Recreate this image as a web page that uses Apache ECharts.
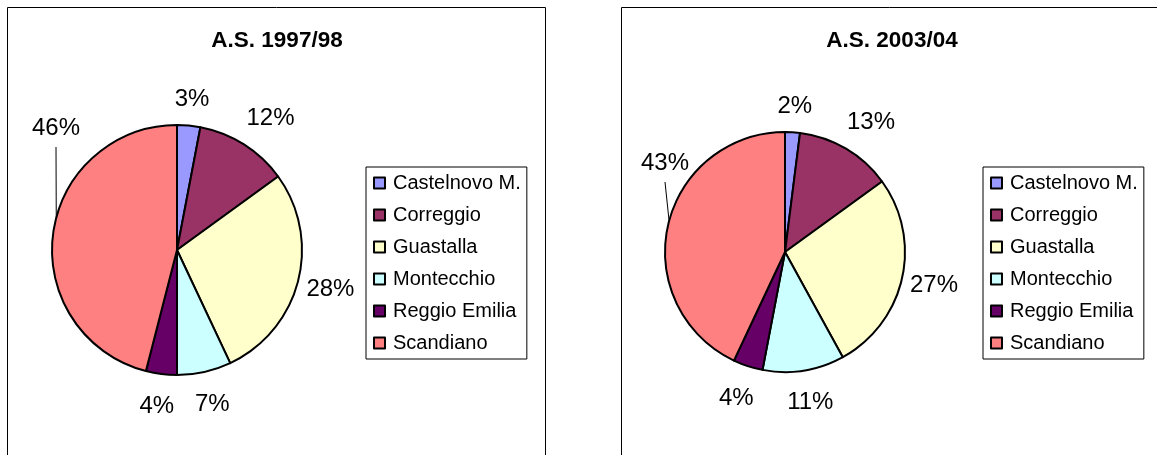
<!DOCTYPE html>
<html>
<head>
<meta charset="utf-8">
<script src="https://cdn.jsdelivr.net/npm/echarts@6/dist/echarts.min.js"></script>
<style>
  html, body { margin: 0; padding: 0; background: #fff; }
  #main { width: 1157px; height: 455px; }
</style>
</head>
<body>
<div id="main"></div>
<script>
// comuni (categorie) e percentuali
const comuni = ['Castelnovo M.', 'Correggio', 'Guastalla', 'Montecchio', 'Reggio Emilia', 'Scandiano'];
const valori9798 = [3, 12, 28, 7, 4, 46];
const valori0304 = [2, 13, 27, 11, 4, 43];
const colori = ['#9999FF', '#993366', '#FFFFCC', '#CCFFFF', '#660066', '#FF8080'];
const titoli = ['A.S. 1997/98', 'A.S. 2003/04'];

const font = 'Liberation Sans, Arial, sans-serif';

// geometria delle due torte; "spostata" = etichetta di Scandiano trascinata in alto
const pies = [
  { center: [177, 250], r: 125, spostata: [-121, -122] },
  { center: [785, 252], r: 120, spostata: [-120, -89] }
];

// angolo (radianti, orario dall'alto) a metà di ogni fetta
function midAngles(vals) {
  const tot = vals.reduce((a, b) => a + b, 0);
  let acc = 0;
  return vals.map(v => {
    const m = (acc + v / 2) / tot * Math.PI * 2;
    acc += v;
    return m;
  });
}

function buildData(vals) {
  return vals.map((v, i) => {
    const item = { name: comuni[i], value: v };
    if (i !== comuni.length - 1) item.labelLine = { show: false };
    return item;
  });
}

function makeSeries(vals, p) {
  const mids = midAngles(vals);
  return {
    type: 'pie',
    center: p.center,
    radius: p.r,
    startAngle: 90,
    clockwise: true,
    avoidLabelOverlap: false,
    animation: false,
    itemStyle: { borderColor: '#000', borderWidth: 2 },
    emphasis: { disabled: true },
    label: {
      show: true,
      position: 'outside',
      formatter: '{c}%',
      fontFamily: font,
      fontSize: 24,
      color: '#000'
    },
    labelLine: { show: true, length: 18, length2: 0, lineStyle: { color: '#000', width: 1 } },
    // etichette alla Excel: l'angolo del riquadro più vicino alla torta sta sul raggio medio
    labelLayout: function (params) {
      const i = params.dataIndex;
      const cx = p.center[0], cy = p.center[1];
      if (i === comuni.length - 1) {
        const lx = cx + p.spostata[0];
        const ly = cy + p.spostata[1];
        const a = 285 * Math.PI / 180;
        return {
          x: lx, y: ly, align: 'center', verticalAlign: 'middle',
          labelLinePoints: [[lx, ly + 19], [lx, ly + 19], [cx + p.r * Math.sin(a), cy - p.r * Math.cos(a)]]
        };
      }
      const t = mids[i];
      const sn = Math.sin(t), cs = Math.cos(t);
      const m = Math.max(Math.abs(sn), Math.abs(cs));
      const s2 = Math.sin(2 * t);
      const d = p.r + 18 - 12 * sn * sn + 8 * s2 * s2;
      const hw = params.labelRect.width / 2, hh = 11;
      return {
        x: cx + d * sn + hw * sn / m,
        y: cy - d * cs - hh * cs / m + 3,
        align: 'center',
        verticalAlign: 'middle'
      };
    },
    data: buildData(vals)
  };
}

function makeLegend(left) {
  return {
    orient: 'vertical',
    left: left,
    top: 167,
    padding: [6, 6, 6, 7],
    borderColor: '#000',
    borderWidth: 1,
    borderRadius: 0,
    icon: 'rect',
    itemWidth: 11,
    itemHeight: 11,
    itemGap: 12,
    selectedMode: false,
    itemStyle: { borderColor: '#000', borderWidth: 2 },
    textStyle: { fontFamily: font, fontSize: 20, color: '#000', padding: [0, 0, 0, 3] },
    data: comuni
  };
}

const chart = echarts.init(document.getElementById('main'), null, { renderer: 'canvas' });

chart.setOption({
  color: colori,
  animation: false,
  title: [
    { text: titoli[0], left: 272, top: 24, textAlign: 'center', textStyle: { fontFamily: font, fontSize: 22.5, fontWeight: 'bold', color: '#000' } },
    { text: titoli[1], left: 887, top: 24, textAlign: 'center', textStyle: { fontFamily: font, fontSize: 22.5, fontWeight: 'bold', color: '#000' } }
  ],
  legend: [makeLegend(366), makeLegend(983)],
  graphic: [
    { type: 'rect', shape: { x: 7.5, y: 7.5, width: 538, height: 470 }, style: { fill: 'none', stroke: '#000', lineWidth: 1 } },
    { type: 'rect', shape: { x: 621.5, y: 7.5, width: 560, height: 470 }, style: { fill: 'none', stroke: '#000', lineWidth: 1 } }
  ],
  series: [makeSeries(valori9798, pies[0]), makeSeries(valori0304, pies[1])]
});
</script>
</body>
</html>
